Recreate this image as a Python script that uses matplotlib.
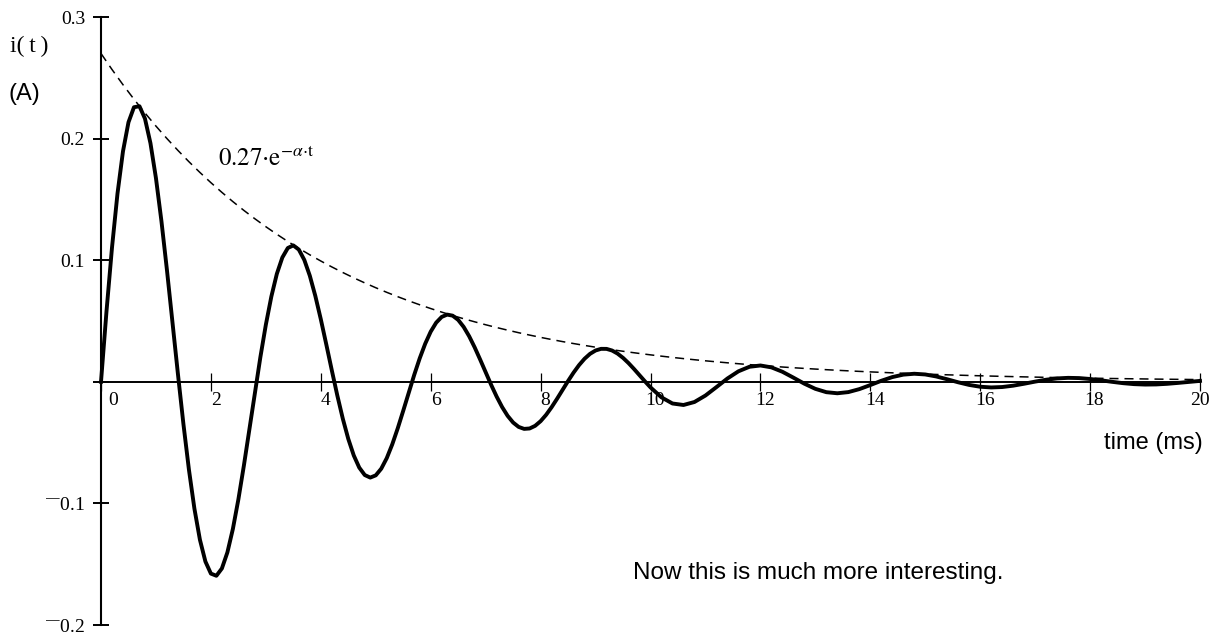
import matplotlib
matplotlib.use("Agg")
import matplotlib.pyplot as plt
from matplotlib.transforms import ScaledTranslation

plt.rcParams["mathtext.fontset"] = "stix"
plt.rcParams["lines.scale_dashes"] = False

# ---- data ----
t_ms = [0.0, 0.1, 0.2, 0.3, 0.4, 0.5, 0.6, 0.7, 0.8, 0.9,
        1.0, 1.1, 1.2, 1.3, 1.4, 1.5, 1.6, 1.7, 1.8, 1.9,
        2.0, 2.1, 2.2, 2.3, 2.4, 2.5, 2.6, 2.7, 2.8, 2.9,
        3.0, 3.1, 3.2, 3.3, 3.4, 3.5, 3.6, 3.7, 3.8, 3.9,
        4.0, 4.1, 4.2, 4.3, 4.4, 4.5, 4.6, 4.7, 4.8, 4.9,
        5.0, 5.1, 5.2, 5.3, 5.4, 5.5, 5.6, 5.7, 5.8, 5.9,
        6.0, 6.1, 6.2, 6.3, 6.4, 6.5, 6.6, 6.7, 6.8, 6.9,
        7.0, 7.1, 7.2, 7.3, 7.4, 7.5, 7.6, 7.7, 7.8, 7.9,
        8.0, 8.1, 8.2, 8.3, 8.4, 8.5, 8.6, 8.7, 8.8, 8.9,
        9.0, 9.1, 9.2, 9.3, 9.4, 9.5, 9.6, 9.7, 9.8, 9.9,
        10.0, 10.2, 10.4, 10.6, 10.8, 11.0, 11.2, 11.4, 11.6, 11.8,
        12.0, 12.2, 12.4, 12.6, 12.8, 13.0, 13.2, 13.4, 13.6, 13.8,
        14.0, 14.2, 14.4, 14.6, 14.8, 15.0, 15.2, 15.4, 15.6, 15.8,
        16.0, 16.2, 16.4, 16.6, 16.8, 17.0, 17.2, 17.4, 17.6, 17.8,
        18.0, 18.2, 18.4, 18.6, 18.8, 19.0, 19.2, 19.4, 19.6, 19.8,
        20.0]

i_A = [0.0, 0.05798, 0.11032, 0.15477, 0.18954, 0.21342, 0.22580, 0.22662, 0.21642, 0.19622,
       0.16750, 0.13206, 0.09194, 0.04932, 0.00639, -0.03476, -0.07221, -0.10434, -0.12984, -0.14780,
       -0.15773, -0.15952, -0.15349, -0.14031, -0.12098, -0.09672, -0.06896, -0.03920, -0.00900, 0.02016,
       0.04693, 0.07011, 0.08877, 0.10221, 0.11004, 0.11216, 0.10873, 0.10020, 0.08723, 0.07066,
       0.05148, 0.03073, 0.00951, -0.01114, -0.03025, -0.04695, -0.06056, -0.07058, -0.07668, -0.07877,
       -0.07694, -0.07146, -0.06279, -0.05150, -0.03826, -0.02382, -0.00892, 0.00568, 0.01930, 0.03131,
       0.04123, 0.04866, 0.05336, 0.05526, 0.05438, 0.05090, 0.04513, 0.03746, 0.02834, 0.01829,
       0.00784, -0.00247, -0.01216, -0.02079, -0.02800, -0.03349, -0.03709, -0.03872, -0.03839, -0.03622,
       -0.03239, -0.02718, -0.02091, -0.01393, -0.00662, 0.00066, 0.00755, 0.01374, 0.01896, 0.02301,
       0.02574, 0.02710, 0.02707, 0.02573, 0.02321, 0.01969, 0.01539, 0.01054, 0.00543, 0.00030,
       -0.00460, -0.01281, -0.01784, -0.01907, -0.01661, -0.01129, -0.00436, 0.00272, 0.00862, 0.01235,
       0.01342, 0.01187, 0.00826, 0.00344, -0.00155, -0.00579, -0.00854, -0.00943, -0.00847, -0.00603,
       -0.00269, 0.00084, 0.00387, 0.00589, 0.00662, 0.00604, 0.00439, 0.00207, -0.00041, -0.00258,
       -0.00406, -0.00464, -0.00430, -0.00319, -0.00159, 0.00016, 0.00171, 0.00279, 0.00325, 0.00306,
       0.00231, 0.00121, -0.00002, -0.00113, -0.00192, -0.00227, -0.00217, -0.00167, -0.00091, -0.00005,
       0.00074]

t_env_ms = [0.0, 0.2, 0.4, 0.6, 0.8, 1.0, 1.2, 1.4, 1.6, 1.8,
            2.0, 2.2, 2.4, 2.6, 2.8, 3.0, 3.2, 3.4, 3.6, 3.8,
            4.0, 4.2, 4.4, 4.6, 4.8, 5.0, 5.2, 5.4, 5.6, 5.8,
            6.0, 6.2, 6.4, 6.6, 6.8, 7.0, 7.2, 7.4, 7.6, 7.8,
            8.0, 8.2, 8.4, 8.6, 8.8, 9.0, 9.2, 9.4, 9.6, 9.8,
            10.0, 10.2, 10.4, 10.6, 10.8, 11.0, 11.2, 11.4, 11.6, 11.8,
            12.0, 12.2, 12.4, 12.6, 12.8, 13.0, 13.2, 13.4, 13.6, 13.8,
            14.0, 14.2, 14.4, 14.6, 14.8, 15.0, 15.2, 15.4, 15.6, 15.8,
            16.0, 16.2, 16.4, 16.6, 16.8, 17.0, 17.2, 17.4, 17.6, 17.8,
            18.0, 18.2, 18.4, 18.6, 18.8, 19.0, 19.2, 19.4, 19.6, 19.8,
            20.0]

envelope_A = [0.27000, 0.25683, 0.24431, 0.23239, 0.22106, 0.21028, 0.20002, 0.19027, 0.18099, 0.17216,
              0.16376, 0.15578, 0.14818, 0.14095, 0.13408, 0.12754, 0.12132, 0.11540, 0.10978, 0.10442,
              0.09933, 0.09448, 0.08988, 0.08549, 0.08132, 0.07736, 0.07358, 0.07000, 0.06658, 0.06334,
              0.06025, 0.05731, 0.05451, 0.05185, 0.04933, 0.04692, 0.04463, 0.04246, 0.04038, 0.03842,
              0.03654, 0.03476, 0.03306, 0.03145, 0.02992, 0.02846, 0.02707, 0.02575, 0.02449, 0.02330,
              0.02216, 0.02108, 0.02005, 0.01908, 0.01815, 0.01726, 0.01642, 0.01562, 0.01486, 0.01413,
              0.01344, 0.01279, 0.01216, 0.01157, 0.01101, 0.01047, 0.00996, 0.00947, 0.00901, 0.00857,
              0.00815, 0.00776, 0.00738, 0.00702, 0.00668, 0.00635, 0.00604, 0.00575, 0.00547, 0.00520,
              0.00495, 0.00470, 0.00447, 0.00426, 0.00405, 0.00385, 0.00366, 0.00348, 0.00331, 0.00315,
              0.00300, 0.00285, 0.00271, 0.00258, 0.00246, 0.00234, 0.00222, 0.00211, 0.00201, 0.00191,
              0.00182]

x_ticks = [0, 2, 4, 6, 8, 10, 12, 14, 16, 18, 20]
x_tick_labels = ["0", "2", "4", "6", "8", "10", "12", "14", "16", "18", "20"]
y_ticks = [-0.2, -0.1, 0.0, 0.1, 0.2, 0.3]
y_tick_labels = ["$^{\u2014}$0.2", "$^{\u2014}$0.1", "", "0.1", "0.2", "0.3"]

# ---- figure ----
W, H = 1222, 633
fig = plt.figure(figsize=(W / 100, H / 100), dpi=100)
fig.patch.set_facecolor("white")


def fx(px):
    return px / W


def fy(py):
    return 1 - py / H


ax = fig.add_axes([fx(101), fy(625), fx(1200) - fx(101), fy(17) - fy(625)])
ax.set_xlim(0, 20)
ax.set_ylim(-0.2, 0.3)
ax.set_facecolor("none")

for s in ("top", "right"):
    ax.spines[s].set_visible(False)
ax.spines["left"].set_position(("data", 0))
ax.spines["bottom"].set_position(("data", 0))
ax.spines["left"].set_linewidth(1.5)
ax.spines["bottom"].set_linewidth(1.4)

ax.plot(t_env_ms, envelope_A, color="black", lw=1.1, linestyle=(0, (6.5, 4.3)), clip_on=False)
ax.plot(t_ms, i_A, color="black", lw=2.8, solid_joinstyle="round", clip_on=False)

serif = ["Liberation Serif", "DejaVu Serif"]
sans = ["Liberation Sans", "DejaVu Sans"]

ax.set_xticks(x_ticks)
ax.set_xticklabels(x_tick_labels, family=serif, size=14)
ax.set_yticks(y_ticks)
ax.set_yticklabels(y_tick_labels, family=serif, size=14)
ax.tick_params(axis="x", direction="inout", length=13, width=0.9, pad=1, colors="black")
ax.tick_params(axis="y", direction="inout", length=12, width=1.4, pad=5.5, colors="black")

x_off_px = [12, 5, 5, 5, 5, 5, 5, 5, 5, 4, 0]
for lab, dx in zip(ax.get_xticklabels(), x_off_px):
    lab.set_transform(lab.get_transform() + ScaledTranslation(dx / 100, 0, fig.dpi_scale_trans))

fig.text(fx(10), fy(46), "i(\u2009t\u2009)", family=serif, size=17, ha="left", va="center")
fig.text(fx(8), fy(94), "(A)", family=sans, size=17, ha="left", va="center")
fig.text(fx(218), fy(165), r"$\mathrm{0.27{\cdot}e}^{-\alpha{\cdot}\mathrm{t}}$", size=18,
         ha="left", va="baseline")
fig.text(fx(1203), fy(443), "time (ms)", family=sans, size=17, ha="right", va="center")
fig.text(fx(633), fy(579), "Now this is much more interesting.", family=sans, size=17.5,
         ha="left", va="baseline")

fig.savefig("out.png", dpi=100, facecolor="white")
